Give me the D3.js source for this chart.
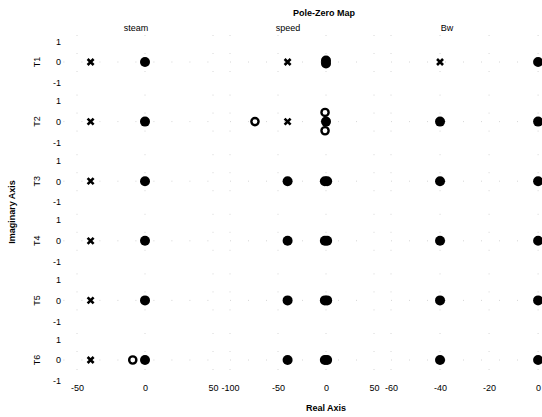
<!DOCTYPE html>
<html>
<head>
<meta charset="utf-8">
<script src="https://cdn.jsdelivr.net/npm/d3@7"></script>
<style>
body{margin:0;background:#fff;}
text{font-family:"Liberation Sans",Arial,sans-serif;fill:#000;}
</style>
</head>
<body>
<script>
var rows = ['T1','T2','T3','T4','T5','T6'];
var cols = ['steam','speed','Bw'];
var colDomains = [[-60,50],[-100,50],[-60,2]];
var xTicks = [[-50,0,50],[-100,-50,0,50],[-60,-40,-20,0]];
var yTicks = [1,0,-1];

// [row, col, real, imag]
var poles = [
  [0,0,-40,0],[1,0,-40,0],[2,0,-40,0],[3,0,-40,0],[4,0,-40,0],[5,0,-40,0],
  [0,1,-40,0],[1,1,-40,0],
  [0,2,-40,0]
];
var zeros = [
  [1,1,-74,0],[1,1,-1,0.44],[1,1,-1,-0.44],
  [5,0,-9,0]
];
var blobs = [
  [0,0,0,0],[1,0,0,0],[2,0,0,0],[3,0,0,0],[4,0,0,0],[5,0,0,0],
  [0,1,0,0.07],[0,1,0,-0.07],[1,1,0,0],
  [2,1,-40,0],[3,1,-40,0],[4,1,-40,0],[5,1,-40,0],
  [2,1,-1.2,0],[2,1,1.2,0],[3,1,-1.2,0],[3,1,1.2,0],
  [4,1,-1.2,0],[4,1,1.2,0],[5,1,-1.2,0],[5,1,1.2,0],
  [1,2,-40,0],[2,2,-40,0],[3,2,-40,0],[4,2,-40,0],[5,2,-40,0],
  [0,2,0,0],[1,2,0,0],[2,2,0,0],[3,2,0,0],[4,2,0,0],[5,2,0,0]
];

var width = 542, height = 417;
var colRanges = [[63.4,213],[230,374],[391,543]];
var rowTop = 62, rowStep = 59.6, rowHalf = 27;

var svg = d3.select("body").append("svg").attr("width",width).attr("height",height);

var xs = colDomains.map(function(d,i){ return d3.scaleLinear().domain(d).range(colRanges[i]); });
var ys = rows.map(function(r,i){
  var c = rowTop + i*rowStep;
  return d3.scaleLinear().domain([-1.3,1.3]).range([c+rowHalf, c-rowHalf]);
});

// faint dotted grid
rows.forEach(function(r,ri){
  cols.forEach(function(c,ci){
    var g = svg.append("g").attr("stroke","#ccc").attr("stroke-width",0.8).attr("stroke-dasharray","1,17");
    xTicks[ci].forEach(function(t){
      g.append("line").attr("x1",xs[ci](t)).attr("x2",xs[ci](t))
        .attr("y1",ys[ri](1.3)).attr("y2",ys[ri](-1.3));
    });
    g.append("line").attr("x1",colRanges[ci][0]).attr("x2",colRanges[ci][1])
      .attr("y1",ys[ri](0)).attr("y2",ys[ri](0));
  });
});

// y tick labels and row labels
rows.forEach(function(r,ri){
  var ax = d3.axisLeft(ys[ri]).tickValues(yTicks).tickSize(0).tickPadding(0)
    .tickFormat(function(d){ return d===0 ? "0" : (d<0 ? "-1" : "1"); });
  var g = svg.append("g").attr("transform","translate(61,0)").call(ax);
  g.select(".domain").remove();
  g.selectAll("text").attr("font-size",9).attr("font-family","Liberation Sans, Arial, sans-serif");
  svg.append("text").attr("transform","translate(40,"+ys[ri](0)+") rotate(-90)")
    .attr("text-anchor","middle").attr("font-size",9).text(r);
});

// x tick labels
cols.forEach(function(c,ci){
  var ax = d3.axisBottom(xs[ci]).tickValues(xTicks[ci]).tickSize(0).tickPadding(0)
    .tickFormat(function(d){ return d<0 ? "-"+Math.abs(d) : String(d); });
  var g = svg.append("g").attr("transform","translate(0,385)").call(ax);
  g.select(".domain").remove();
  g.selectAll("text").attr("font-size",9).attr("font-family","Liberation Sans, Arial, sans-serif");
});

// column titles
var titleX = [136, 288, 447];
cols.forEach(function(c,ci){
  svg.append("text").attr("x",titleX[ci]).attr("y",31).attr("text-anchor","middle")
    .attr("font-size",9).attr("fill","#333").text(c);
});

svg.append("text").attr("x",324).attr("y",16).attr("text-anchor","middle")
  .attr("font-size",9).attr("font-weight","bold").text("Pole-Zero Map");
svg.append("text").attr("x",326).attr("y",411).attr("text-anchor","middle")
  .attr("font-size",9).attr("font-weight","bold").text("Real Axis");
svg.append("text").attr("transform","translate(15,212) rotate(-90)").attr("text-anchor","middle")
  .attr("font-size",9).attr("font-weight","bold").text("Imaginary Axis");

// markers
svg.append("g").selectAll("circle").data(blobs).join("circle")
  .attr("cx",function(d){ return xs[d[1]](d[2]); })
  .attr("cy",function(d){ return ys[d[0]](d[3]); })
  .attr("r",5).attr("fill","#000");

svg.append("g").selectAll("circle").data(zeros).join("circle")
  .attr("cx",function(d){ return xs[d[1]](d[2]); })
  .attr("cy",function(d){ return ys[d[0]](d[3]); })
  .attr("r",3.6).attr("fill","#fff").attr("stroke","#000").attr("stroke-width",2.4);

var s = 3;
svg.append("g").selectAll("path").data(poles).join("path")
  .attr("d",function(d){
    var x = xs[d[1]](d[2]), y = ys[d[0]](d[3]);
    return "M"+(x-s)+","+(y-s)+"L"+(x+s)+","+(y+s)+"M"+(x-s)+","+(y+s)+"L"+(x+s)+","+(y-s);
  })
  .attr("stroke","#000").attr("stroke-width",2.6).attr("fill","none");
</script>
</body>
</html>
